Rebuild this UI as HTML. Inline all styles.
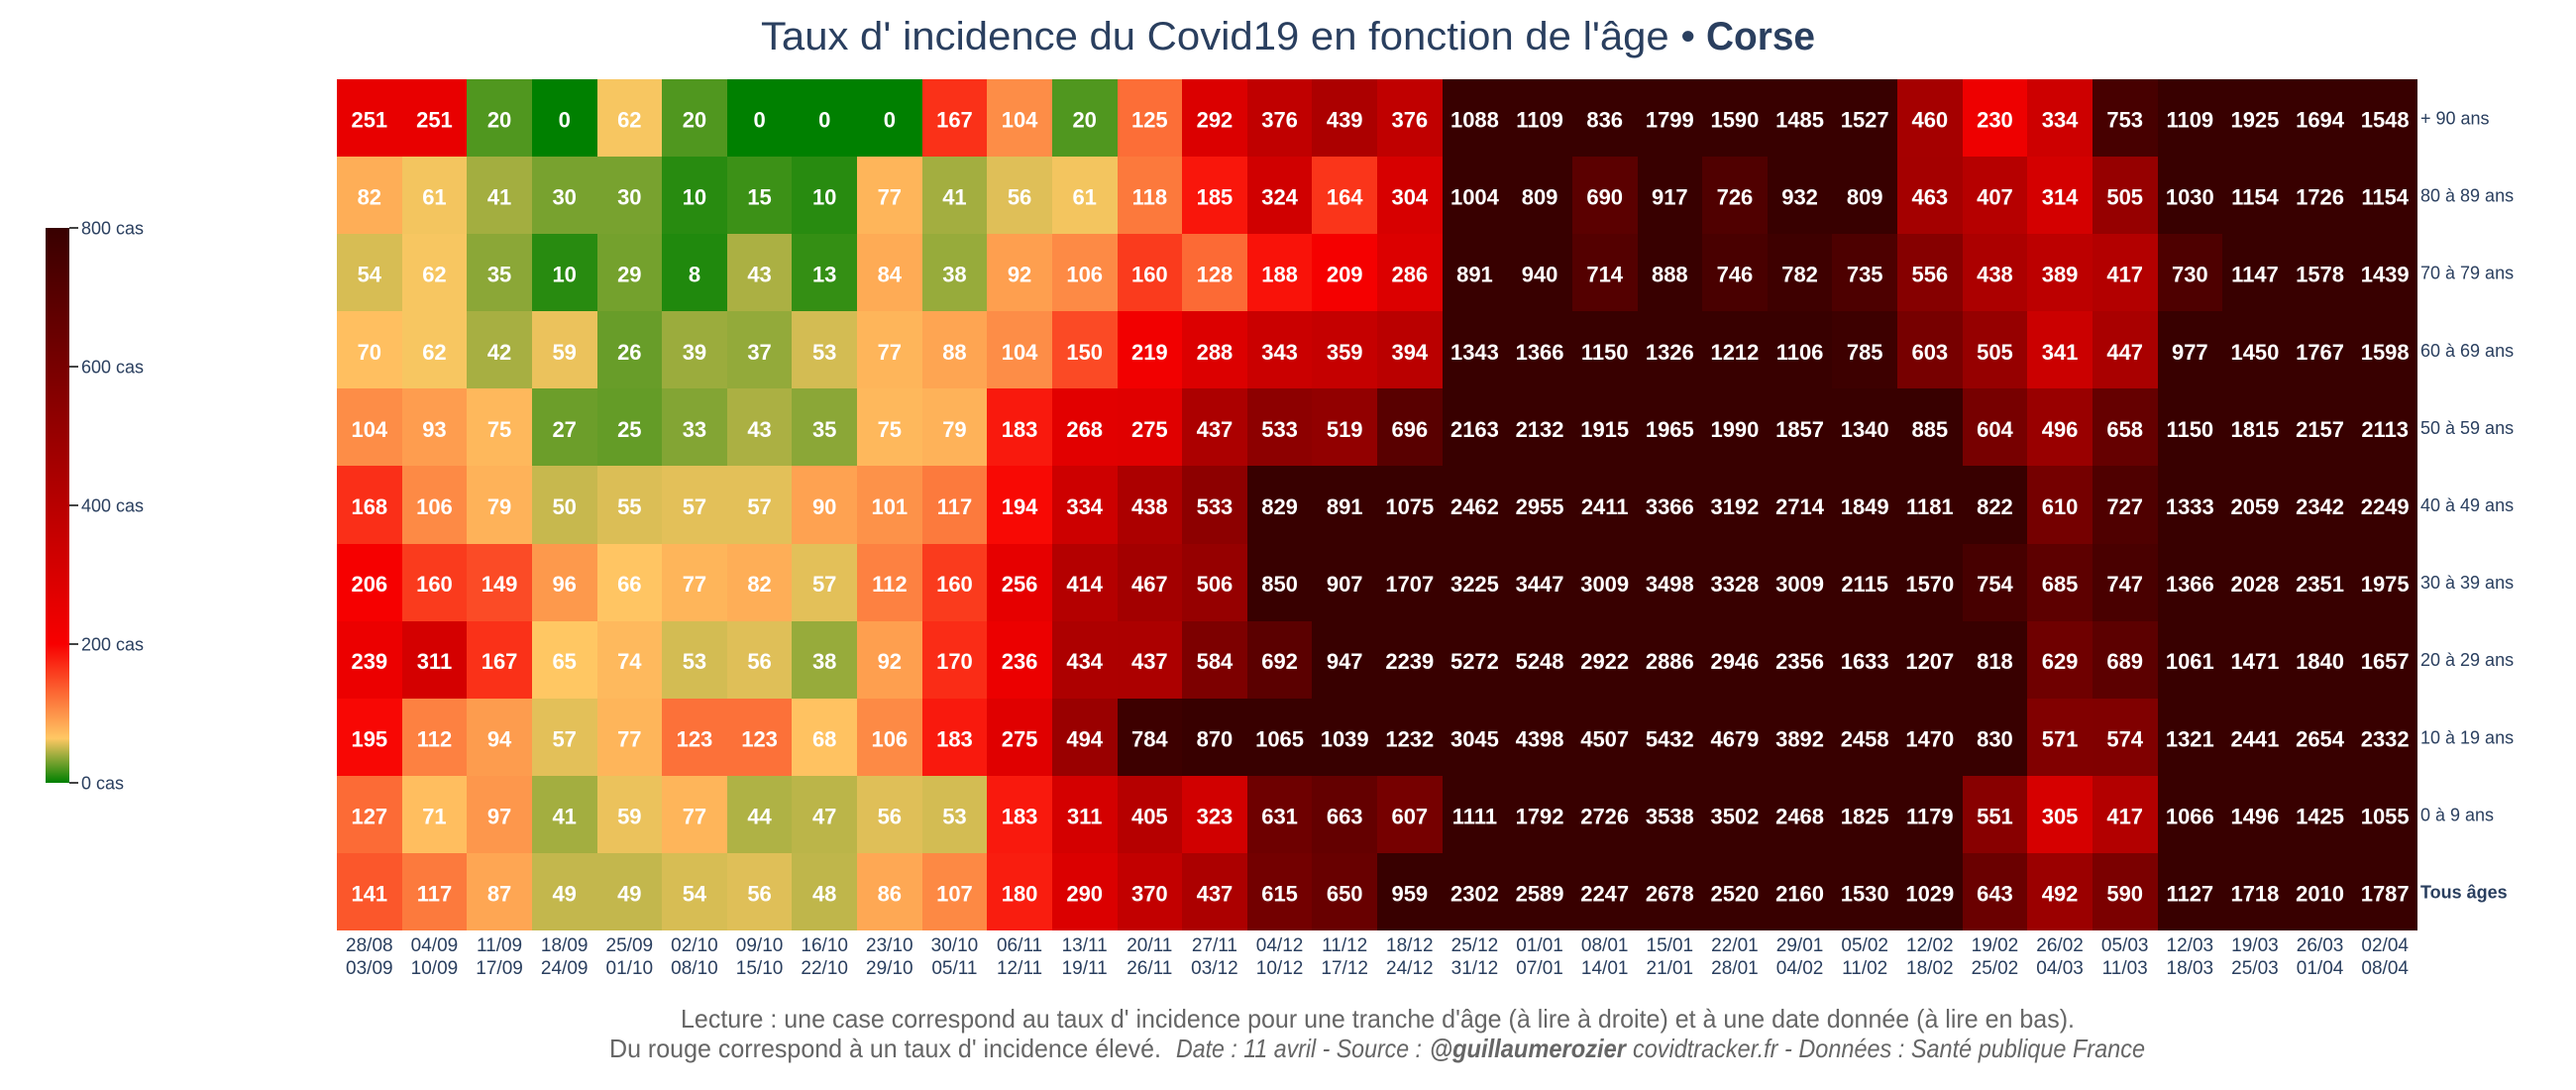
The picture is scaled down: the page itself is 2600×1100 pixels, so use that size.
<!DOCTYPE html>
<html lang="fr">
<head>
<meta charset="utf-8">
<title>Taux d'incidence du Covid19 en fonction de l'âge - Corse</title>
<style>
  html, body { margin: 0; padding: 0; background: #fff; }
  svg { display: block; font-family: "Liberation Sans", "DejaVu Sans", sans-serif; }
</style>
</head>
<body>
<svg id="chart" xmlns="http://www.w3.org/2000/svg" width="2600" height="1100" viewBox="0 0 2600 1100">
  <rect width="2600" height="1100" fill="#ffffff"/>
  <g font-size="40" fill="#2a3f5f">
    <text x="768" y="50" textLength="943" lengthAdjust="spacingAndGlyphs">Taux d' incidence du Covid19 en fonction de l'âge •</text>
    <text x="1722" y="50" textLength="110" lengthAdjust="spacingAndGlyphs" font-weight="bold">Corse</text>
  </g>
  <g id="cells"></g>
  <g id="cellLabels"></g>
  <g id="xAxis"></g>
  <g id="yAxis"></g>
  <g id="colorbar"></g>
  <g font-size="26" fill="#666666">
    <text x="687" y="1037" textLength="1407" lengthAdjust="spacingAndGlyphs">Lecture : une case correspond au taux d' incidence pour une tranche d'âge (à lire à droite) et à une date donnée (à lire en bas).</text>
    <text x="615" y="1067" textLength="557" lengthAdjust="spacingAndGlyphs">Du rouge correspond à un taux d' incidence élevé.</text>
    <text x="1187" y="1067" textLength="248" lengthAdjust="spacingAndGlyphs" font-style="italic">Date : 11 avril - Source :</text>
    <text x="1443" y="1067" textLength="198" lengthAdjust="spacingAndGlyphs" font-style="italic" font-weight="bold">@guillaumerozier</text>
    <text x="1648" y="1067" textLength="517" lengthAdjust="spacingAndGlyphs" font-style="italic">covidtracker.fr - Données : Santé publique France</text>
  </g>
</svg>
<script>
const weekStarts = ["28/08","04/09","11/09","18/09","25/09","02/10","09/10","16/10","23/10","30/10","06/11","13/11","20/11","27/11","04/12","11/12","18/12","25/12","01/01","08/01","15/01","22/01","29/01","05/02","12/02","19/02","26/02","05/03","12/03","19/03","26/03","02/04"];
const weekEnds = ["03/09","10/09","17/09","24/09","01/10","08/10","15/10","22/10","29/10","05/11","12/11","19/11","26/11","03/12","10/12","17/12","24/12","31/12","07/01","14/01","21/01","28/01","04/02","11/02","18/02","25/02","04/03","11/03","18/03","25/03","01/04","08/04"];
const ageGroups = ["+ 90 ans","80 à 89 ans","70 à 79 ans","60 à 69 ans","50 à 59 ans","40 à 49 ans","30 à 39 ans","20 à 29 ans","10 à 19 ans","0 à 9 ans","Tous âges"];
const rowAge90 = [251,251,20,0,62,20,0,0,0,167,104,20,125,292,376,439,376,1088,1109,836,1799,1590,1485,1527,460,230,334,753,1109,1925,1694,1548];
const rowAge80 = [82,61,41,30,30,10,15,10,77,41,56,61,118,185,324,164,304,1004,809,690,917,726,932,809,463,407,314,505,1030,1154,1726,1154];
const rowAge70 = [54,62,35,10,29,8,43,13,84,38,92,106,160,128,188,209,286,891,940,714,888,746,782,735,556,438,389,417,730,1147,1578,1439];
const rowAge60 = [70,62,42,59,26,39,37,53,77,88,104,150,219,288,343,359,394,1343,1366,1150,1326,1212,1106,785,603,505,341,447,977,1450,1767,1598];
const rowAge50 = [104,93,75,27,25,33,43,35,75,79,183,268,275,437,533,519,696,2163,2132,1915,1965,1990,1857,1340,885,604,496,658,1150,1815,2157,2113];
const rowAge40 = [168,106,79,50,55,57,57,90,101,117,194,334,438,533,829,891,1075,2462,2955,2411,3366,3192,2714,1849,1181,822,610,727,1333,2059,2342,2249];
const rowAge30 = [206,160,149,96,66,77,82,57,112,160,256,414,467,506,850,907,1707,3225,3447,3009,3498,3328,3009,2115,1570,754,685,747,1366,2028,2351,1975];
const rowAge20 = [239,311,167,65,74,53,56,38,92,170,236,434,437,584,692,947,2239,5272,5248,2922,2886,2946,2356,1633,1207,818,629,689,1061,1471,1840,1657];
const rowAge10 = [195,112,94,57,77,123,123,68,106,183,275,494,784,870,1065,1039,1232,3045,4398,4507,5432,4679,3892,2458,1470,830,571,574,1321,2441,2654,2332];
const rowAge0 = [127,71,97,41,59,77,44,47,56,53,183,311,405,323,631,663,607,1111,1792,2726,3538,3502,2468,1825,1179,551,305,417,1066,1496,1425,1055];
const rowAll = [141,117,87,49,49,54,56,48,86,107,180,290,370,437,615,650,959,2302,2589,2247,2678,2520,2160,1530,1029,643,492,590,1127,1718,2010,1787];
const colorbarTicks = [0,200,400,600,800];
const colorDomainMax = 800;

const rows = [rowAge90,rowAge80,rowAge70,rowAge60,rowAge50,rowAge40,rowAge30,rowAge20,rowAge10,rowAge0,rowAll];
const SVG_NS = 'http://www.w3.org/2000/svg';
const plot = { left: 340, right: 2440, top: 80, bottom: 939 };
const bar = { left: 46, right: 70, top: 230, bottom: 790 };
const colorStops = [[0,[0,128,0]],[0.08,[255,200,100]],[0.25,[248,0,0]],[1,[56,0,0]]];

function xBand(i) { return plot.left + i * (plot.right - plot.left) / weekStarts.length; }
function yBand(r) { return plot.top + r * (plot.bottom - plot.top) / ageGroups.length; }
function barY(v) { return bar.bottom - (v / colorDomainMax) * (bar.bottom - bar.top); }
function colorFor(v) {
  const t = Math.min(Math.max(v / colorDomainMax, 0), 1);
  for (let i = 1; i < colorStops.length; i++) {
    const a = colorStops[i - 1], b = colorStops[i];
    if (t <= b[0]) {
      const f = (t - a[0]) / (b[0] - a[0]);
      const c = a[1].map((ch, k) => Math.round(ch + (b[1][k] - ch) * f));
      return 'rgb(' + c.join(',') + ')';
    }
  }
  return 'rgb(56,0,0)';
}
function svgEl(tag, attrs, parent, text) {
  const el = document.createElementNS(SVG_NS, tag);
  Object.keys(attrs).forEach(k => el.setAttribute(k, attrs[k]));
  if (text !== undefined) el.textContent = text;
  parent.appendChild(el);
  return el;
}

const cellsG = document.getElementById('cells');
const labelsG = document.getElementById('cellLabels');
rows.forEach((row, r) => {
  const y0 = Math.round(yBand(r)), y1 = Math.round(yBand(r + 1));
  row.forEach((v, c) => {
    const x0 = Math.round(xBand(c)), x1 = Math.round(xBand(c + 1));
    const cell = svgEl('rect', { x: x0, y: y0, width: x1 - x0, height: y1 - y0, fill: colorFor(v), 'shape-rendering': 'crispEdges' }, cellsG);
    
    
    const label = svgEl('text', { x: (xBand(c) + xBand(c + 1)) / 2, y: (yBand(r) + yBand(r + 1)) / 2 + 9.5, 'text-anchor': 'middle', 'font-size': 22, 'font-weight': 'bold', fill: '#ffffff' }, labelsG, String(v));
    
    
  });
});

const xAxisG = document.getElementById('xAxis');
weekStarts.forEach((d, i) => {
  const cx = (xBand(i) + xBand(i + 1)) / 2;
  const top = svgEl('text', { x: cx, y: 960, 'text-anchor': 'middle', 'font-size': 19, fill: '#2a3f5f' }, xAxisG, d);
  
  
  const bottom = svgEl('text', { x: cx, y: 983, 'text-anchor': 'middle', 'font-size': 19, fill: '#2a3f5f' }, xAxisG, weekEnds[i]);
  
  
});

const yAxisG = document.getElementById('yAxis');
ageGroups.forEach((a, r) => {
  const isTotal = a === 'Tous âges';
  const t = svgEl('text', { x: 2443, y: (yBand(r) + yBand(r + 1)) / 2 + 6.5, 'font-size': 18, 'font-weight': isTotal ? 'bold' : 'normal', fill: '#2a3f5f' }, yAxisG, a);
  
  
});

const barG = document.getElementById('colorbar');
const defs = svgEl('defs', {}, barG);
const grad = svgEl('linearGradient', { id: 'barGradient', x1: 0, y1: 1, x2: 0, y2: 0 }, defs);
colorStops.forEach(s => {
  svgEl('stop', { offset: s[0], 'stop-color': colorFor(s[0] * colorDomainMax) }, grad);
});
const ramp = svgEl('rect', { x: bar.left, y: bar.top, width: bar.right - bar.left, height: bar.bottom - bar.top, fill: 'url(#barGradient)' }, barG);


colorbarTicks.forEach(v => {
  const y = barY(v);
  const tick = svgEl('line', { x1: bar.right, x2: bar.right + 9, y1: y, y2: y, stroke: '#444444', 'stroke-width': 2 }, barG);
  
  
  const label = svgEl('text', { x: 82, y: y + 6.5, 'font-size': 18, fill: '#2a3f5f' }, barG, v + ' cas');
  
  
});
</script>
</body>
</html>
